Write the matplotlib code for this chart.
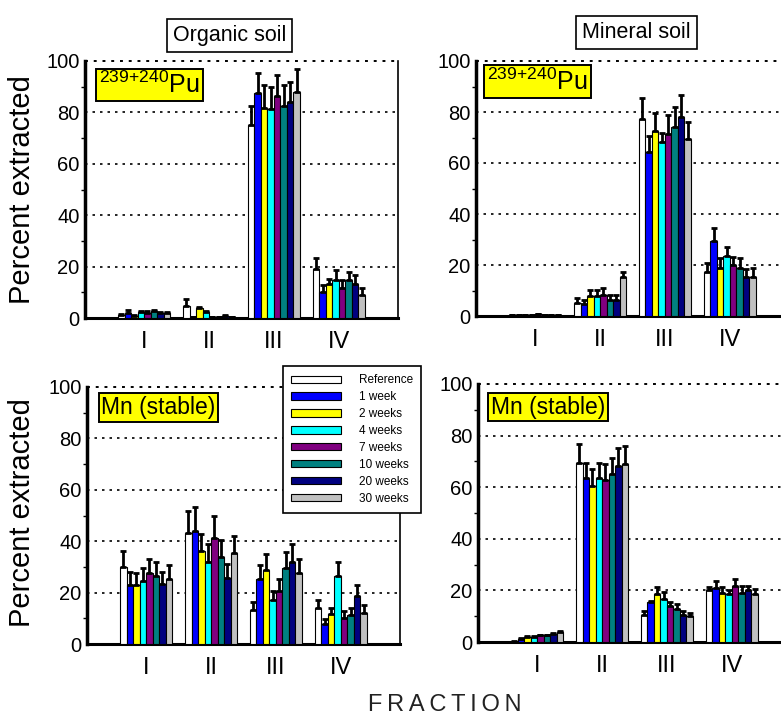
import matplotlib.pyplot as plt
import numpy as np

plt.rcParams['font.family'] = ['Liberation Sans', 'DejaVu Sans']
plt.rcParams['mathtext.fontset'] = 'custom'
plt.rcParams['mathtext.rm'] = 'Liberation Sans'
plt.rcParams['mathtext.it'] = 'Liberation Sans'

fractions = ['I', 'II', 'III', 'IV']
series = ['Reference', '1 week', '2 weeks', '4 weeks', '7 weeks', '10 weeks', '20 weeks', '30 weeks']
colors = ['#FFFFFF', '#0000FF', '#FFFF00', '#00FFFF', '#800080', '#008080', '#000080', '#C0C0C0']

# rows = fraction I..IV, columns = series (Reference ... 30 weeks)
pu_organic = [[1.1, 1.8, 0.8, 2.3, 2.1, 2.6, 2.0, 2.1],
              [4.7, 0.3, 3.7, 2.2, 0.3, 0.3, 0.8, 0.3],
              [75.0, 87.5, 81.7, 81.2, 86.3, 82.5, 83.9, 88.1],
              [19.2, 10.3, 13.4, 14.8, 11.7, 14.8, 13.4, 9.1]]
pu_organic_err = [[0.3, 1.2, 0.3, 0.4, 0.5, 0.5, 0.5, 0.4],
                  [2.5, 0.1, 0.5, 0.4, 0.1, 0.1, 0.3, 0.1],
                  [7.4, 7.9, 9.0, 8.6, 8.1, 8.0, 8.1, 8.6],
                  [4.3, 2.5, 1.9, 3.9, 3.1, 3.2, 3.2, 2.5]]

pu_mineral = [[0.2, 0.2, 0.2, 0.3, 0.6, 0.2, 0.2, 0.2],
              [5.2, 4.8, 7.7, 7.7, 8.3, 6.4, 6.4, 15.2],
              [77.4, 64.5, 72.5, 68.1, 71.3, 74.2, 78.1, 69.3],
              [17.1, 29.4, 18.7, 23.6, 20.1, 18.7, 15.2, 15.2]]
pu_mineral_err = [[0.1, 0.1, 0.1, 0.1, 0.2, 0.1, 0.1, 0.1],
                  [1.8, 1.3, 2.5, 2.5, 2.5, 1.9, 1.9, 1.9],
                  [8.1, 6.1, 7.1, 3.5, 7.4, 7.6, 8.7, 6.8],
                  [3.7, 5.1, 4.0, 3.5, 3.2, 4.0, 3.2, 3.6]]

mn_organic = [[30.0, 23.1, 23.1, 24.5, 27.8, 26.4, 23.3, 25.2],
              [43.2, 43.8, 36.2, 31.9, 41.3, 33.9, 25.8, 35.3],
              [13.4, 25.2, 28.9, 17.3, 20.8, 29.5, 32.0, 27.8],
              [14.1, 7.6, 11.5, 26.5, 10.3, 11.2, 18.7, 12.1]]
mn_organic_err = [[6.3, 5.1, 4.7, 5.0, 5.4, 5.4, 4.9, 5.4],
                  [8.5, 9.4, 6.7, 6.9, 8.4, 6.4, 5.5, 6.6],
                  [3.0, 5.5, 6.2, 3.4, 4.3, 6.2, 6.8, 5.4],
                  [3.0, 2.0, 2.5, 5.3, 2.4, 2.8, 4.4, 3.0]]

mn_mineral = [[0.1, 1.3, 1.9, 1.9, 2.6, 2.6, 3.2, 3.9],
              [69.4, 63.5, 60.6, 63.5, 62.6, 65.2, 68.4, 68.8],
              [10.6, 15.5, 18.7, 16.6, 14.1, 12.9, 10.3, 9.9],
              [20.0, 21.0, 19.1, 18.7, 21.7, 19.1, 20.0, 18.7]]
mn_mineral_err = [[0.1, 0.3, 0.3, 0.3, 0.3, 0.3, 0.4, 0.4],
                  [7.4, 5.9, 6.4, 5.9, 6.2, 6.0, 6.7, 7.3],
                  [1.4, 0.5, 2.5, 2.8, 1.4, 1.9, 1.7, 1.3],
                  [1.5, 2.5, 2.4, 1.6, 2.6, 2.7, 1.8, 1.7]]

W, H = 781, 715
DOTS = (0, (1.5, 3))


def draw_panel(rect, values, errors, label, label_xy, label_size):
    # rect = left, top, right, bottom in pixels
    ax = fig.add_axes([rect[0] / W, 1 - rect[3] / H, (rect[2] - rect[0]) / W, (rect[3] - rect[1]) / H])
    vals = np.array(values).T
    errs = np.array(errors).T
    x = np.arange(1, len(fractions) + 1)
    width = 0.1
    bars = []
    for i, (name, c) in enumerate(zip(series, colors)):
        pos = x + (i - 3.5) * width
        b = ax.bar(pos, vals[i], width, color=c, edgecolor='black', linewidth=0.8, label=name, zorder=3)
        ax.errorbar(pos, vals[i], yerr=[np.zeros(len(x)), errs[i]], fmt='none', ecolor='black',
                    elinewidth=2, capsize=2.5, capthick=2, zorder=4)
        bars.append(b)
    for y in (20, 40, 60, 80):
        ax.axhline(y, color='black', ls=DOTS, lw=1.2, zorder=1)
    ax.axhline(100, color='black', ls=DOTS, lw=1.4, zorder=1, clip_on=False)
    ax.set_xlim(0.09, 4.91)
    ax.set_ylim(0, 100)
    ax.set_yticks(range(0, 101, 20))
    ax.set_yticks(range(10, 100, 20), minor=True)
    ax.set_xticks(x, fractions)
    ax.tick_params(axis='y', which='major', length=0, pad=4, labelsize=14.5)
    ax.tick_params(axis='y', which='minor', length=3, width=1, direction='out')
    ax.tick_params(axis='x', length=0, pad=9, labelsize=17)
    ax.spines['top'].set_visible(False)
    ax.spines['left'].set_linewidth(2.5)
    ax.spines['bottom'].set_linewidth(2.2)
    ax.spines['right'].set_linewidth(1.2)
    ax.text(label_xy[0], label_xy[1], label, transform=ax.transAxes, ha='left', va='top',
            fontsize=label_size,
            bbox=dict(boxstyle='square,pad=0.12', fc='#FFFF00', ec='black', lw=1.4))
    return ax, bars


fig = plt.figure(figsize=(W / 100, H / 100), dpi=100)

pu_label = r'$^{\mathrm{239{+}240}}$Pu'
ax1, bars = draw_panel((85, 61, 398, 318), pu_organic, pu_organic_err, pu_label, (0.046, 0.958), 18)
ax2, _ = draw_panel((476, 61, 789, 316), pu_mineral, pu_mineral_err, pu_label, (0.036, 0.972), 18)
ax3, _ = draw_panel((87, 387, 400, 644), mn_organic, mn_organic_err, 'Mn (stable)', (0.046, 0.965), 16.5)
ax4, _ = draw_panel((478, 384, 791, 642), mn_mineral, mn_mineral_err, 'Mn (stable)', (0.04, 0.955), 16.5)

box = dict(boxstyle='square,pad=0.27', fc='white', ec='black', lw=1.2)
fig.text(229.5 / W, 1 - 35.5 / H, 'Organic soil', ha='center', va='center', fontsize=15.5, bbox=box)
fig.text(636.5 / W, 1 - 32.5 / H, 'Mineral soil', ha='center', va='center', fontsize=15.5, bbox=box)

fig.text(22 / W, 1 - 190 / H, 'Percent extracted', rotation=90, ha='center', va='center', fontsize=21)
fig.text(22 / W, 1 - 513 / H, 'Percent extracted', rotation=90, ha='center', va='center', fontsize=21)

fig.text(444.5 / W, 4 / H, '\u2009'.join('FRACTION'), ha='center', va='baseline', fontsize=17, color='#222222')

leg = fig.legend(bars, series, loc='upper left', bbox_to_anchor=(283 / W, 1 - 366 / H),
                 frameon=True, fancybox=False, edgecolor='black', framealpha=1,
                 prop={'size': 8.5}, handlelength=4.25, handleheight=0.55,
                 labelspacing=0.42, handletextpad=1.45, borderpad=0.7, borderaxespad=0)
leg.get_frame().set_linewidth(1.2)

fig.savefig('out.png', dpi=100)
